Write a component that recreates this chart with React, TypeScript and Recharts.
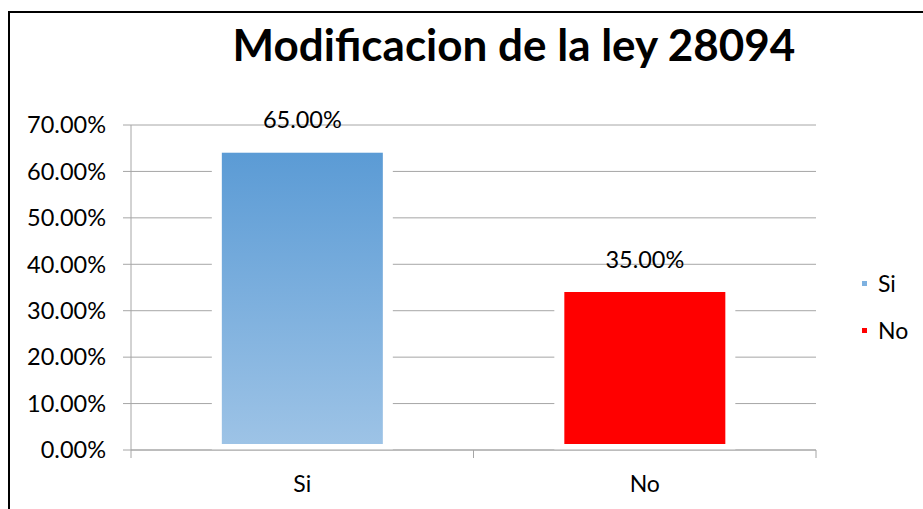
import React from 'react';
import { BarChart, Bar, XAxis, YAxis, CartesianGrid, Cell, LabelList, Legend } from 'recharts';

const categories = ['Si', 'No'];
const values = [0.65, 0.35];
const yTicks = [0, 0.1, 0.2, 0.3, 0.4, 0.5, 0.6, 0.7];
const barFills = ['url(#siGradient)', '#ff0000'];
const legendColors = ['#7eb1e0', '#ff0000'];
const title = 'Modificacion de la ley 28094';

const data = categories.map((c, i) => ({ name: c, value: values[i] }));

const FONT = 'Lato, "Open Sans", sans-serif';
const GRAY = '#a6a6a6';

const pct = (v: number) => (v * 100).toFixed(2) + '%';

const BarShape = (props: any) => {
  const { x, y, width, height, fill } = props;
  if (width == null || height == null) return null;
  return (
    <g>
      <rect x={x} y={y} width={width} height={height} fill="#ffffff" />
      <rect x={x + 10} y={y + 4.5} width={Math.max(0, width - 20)} height={Math.max(0, height - 10.5)} fill={fill} />
    </g>
  );
};

const XTick = (props: any) => {
  const { x, y, payload } = props;
  const off = payload && typeof payload.offset === 'number' ? payload.offset : 0;
  return (
    <g>
      <line x1={x - off} x2={x - off} y1={y - 10} y2={y - 2} stroke={GRAY} />
      <line x1={x + off} x2={x + off} y1={y - 10} y2={y - 2} stroke={GRAY} />
      <text x={x} y={y + 32} textAnchor="middle" fill="#000" fontSize={23} fontFamily={FONT}>
        {payload.value}
      </text>
    </g>
  );
};

const LegendContent = () => (
  <div style={{ fontFamily: FONT, fontSize: 23, color: '#000' }}>
    {categories.map((c, i) => (
      <div key={c} style={{ display: 'flex', alignItems: 'center', height: 47 }}>
        <span style={{ display: 'inline-block', width: 5, height: 5, background: legendColors[i], marginRight: 11 }} />
        <span>{c}</span>
      </div>
    ))}
  </div>
);

export default function App() {
  return (
    <div style={{ position: 'fixed', left: 0, top: 0, width: 923, height: 509, overflow: 'hidden', background: '#fff' }}>
      <div style={{ position: 'absolute', left: 8, top: 11, width: 1000, height: 1000, border: '2px solid #000', boxSizing: 'border-box' }} />
      <div style={{ position: 'absolute', left: 0, top: 0 }}>
        <BarChart
          width={923}
          height={509}
          data={data}
          margin={{ top: 125, right: 107, bottom: 19, left: 0 }}
          barCategoryGap="23.6%"
        >
          <defs>
            <linearGradient id="siGradient" x1="0" y1="0" x2="0" y2="1">
              <stop offset="0%" stopColor="#5b9bd5" />
              <stop offset="100%" stopColor="#9dc3e6" />
            </linearGradient>
          </defs>
          <text x={514} y={61} textAnchor="middle" fontFamily={FONT} fontWeight="bold" fontSize={44} fill="#000">
            {title}
          </text>
          <CartesianGrid vertical={false} stroke={GRAY} />
          <XAxis
            dataKey="name"
            axisLine={{ stroke: GRAY }}
            tickLine={false}
            tickSize={8}
            tickMargin={2}
            height={40}
            tick={<XTick />}
            interval={0}
          />
          <YAxis
            domain={[0, 0.7]}
            ticks={yTicks}
            tickFormatter={pct}
            width={131}
            axisLine={{ stroke: GRAY }}
            tickLine={{ stroke: GRAY }}
            tickSize={8}
            tickMargin={17}
            tick={{ fill: '#000', fontSize: 23.5, fontFamily: FONT }}
            interval={0}
          />
          <Legend
            layout="vertical"
            align="center"
            verticalAlign="middle"
            wrapperStyle={{ left: 862, top: 259.5, width: 60 }}
            content={<LegendContent />}
          />
          <Bar dataKey="value" isAnimationActive={false} shape={<BarShape />}>
            {data.map((d, i) => (
              <Cell key={d.name} fill={barFills[i]} />
            ))}
            <LabelList
              dataKey="value"
              position="top"
              offset={20}
              formatter={(v: any) => pct(Number(v))}
              fill="#000"
              fontSize={23.5}
              fontFamily={FONT}
            />
          </Bar>
        </BarChart>
      </div>
    </div>
  );
}
